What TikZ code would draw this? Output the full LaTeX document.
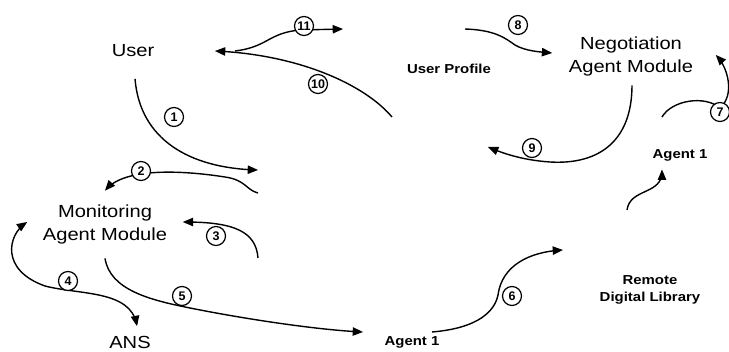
\documentclass[tikz,border=0pt]{standalone}
\usepackage{fontspec}
\setmainfont{Liberation Sans}
\newfontfamily\bigfont[FakeStretch=1.15]{Liberation Sans}
\newfontfamily\smallfont[FakeStretch=1.15]{Liberation Sans}
\usepackage{tikz}
\usetikzlibrary{arrows,calc,shapes}

\begin{document}
\begin{tikzpicture}[x=1pt,y=-1pt,line width=1.4pt]
\tikzstyle{big}=[font=\bigfont\fontsize{17.5}{23}\selectfont,align=center,inner sep=0pt]
\tikzstyle{small}=[font=\smallfont\bfseries\fontsize{13}{17}\selectfont,align=center,inner sep=0pt]
\tikzstyle{num}=[circle,draw,fill=white,line width=1.2pt,minimum size=19pt,inner sep=0pt,
      font=\bfseries\fontsize{12.5}{12.5}\selectfont]
\useasboundingbox (0,0) rectangle (729,352);
\node[big] (user) at (133,51) {User};
\node[big] (negot) at (631,56) {Negotiation\\Agent Module};
\node[big] (monitor) at (105,224) {Monitoring\\Agent Module};
\node[big] (ans) at (130,342) {ANS};
\node[small] (profile) at (449,69) {User Profile};
\node[small] (agentb) at (680,155) {Agent 1};
\node[small] (agenta) at (412,342) {Agent 1};
\node[small] (library) at (650,290) {Remote\\Digital Library};
% ends at the (faded) pictures
\coordinate (fork) at (235,51);
\coordinate (docin) at (258,170);
\coordinate (docout) at (258,193);
\coordinate (docback) at (258,258);
\coordinate (doctop) at (392,117);
\coordinate (docin9) at (488,147);
\coordinate (proin) at (343,29);
\coordinate (proout) at (465,29);
\coordinate (agtin) at (363,332);
\coordinate (agtout) at (432,332);
\coordinate (agtup) at (662,117);
\coordinate (libin) at (563,250);
\coordinate (libout) at (627,210);
\tikzset{>={triangle 45}}
\draw[->] ($(user.south)+(2,21)$) .. controls (140,140) and (190,168) .. (docin);
\draw[->] (docout) .. controls (246,190) and (246,180) .. (225,177)
      .. controls (180,170) and (125,168) .. ($(monitor.north)+(0,-13)$);
\draw[->] (docback) .. controls (256,232) and (235,222) .. ($(monitor.east)+(15,-2)$);
\draw[<->] ($(monitor.west)+(-15,-2)$) .. controls (8,235) and (0,270) .. (45,286)
      .. controls (80,295) and (130,290) .. ($(ans.north)+(7,-9)$);
\draw[->] ($(monitor.south)+(0,14)$) .. controls (110,290) and (150,300) .. (190,308)
      .. controls (250,320) and (320,330) .. (agtin);
\draw[->] (agtout) .. controls (480,328) and (495,310) .. (498,295)
      .. controls (502,265) and (530,252) .. (libin);
\draw[->] (libout) .. controls (630,188) and (662,195) .. ($(agentb.south)+(-18,8)$);
\draw[->] (agtup) .. controls (672,100) and (705,95) .. (720,108)
      .. controls (735,95) and (728,68) .. ($(negot.east)+(22,-1)$);
\draw[->] (proout) .. controls (495,30) and (505,38) .. (515,45)
      .. controls (525,51) and (540,52) .. ($(negot.west)+(-16,-3)$);
\draw[->] ($(negot.south)+(1,9)$) .. controls (632,140) and (600,165) .. (550,162)
      .. controls (520,160) and (500,152) .. (docin9);
\draw[->] (doctop) .. controls (365,85) and (300,55) .. ($(user.east)+(60,0)$);
\draw[->] (fork) .. controls (268,47) and (268,33) .. (300,30) -- (proin);
% step numbers
\node[num] (c1) at (174,117) {1};
\node[num] (c2) at (141,171) {2};
\node[num] (c3) at (216,236) {3};
\node[num] (c4) at (68,281) {4};
\node[num] (c5) at (182,296) {5};
\node[num] (c6) at (512,296) {6};
\node[num] (c7) at (720,112) {7};
\node[num] (c8) at (518,25) {8};
\node[num] (c9) at (532,148) {9};
\node[num] (c10) at (318,84) {10};
\node[num] (c11) at (304,26) {11};
\end{tikzpicture}
\end{document}
